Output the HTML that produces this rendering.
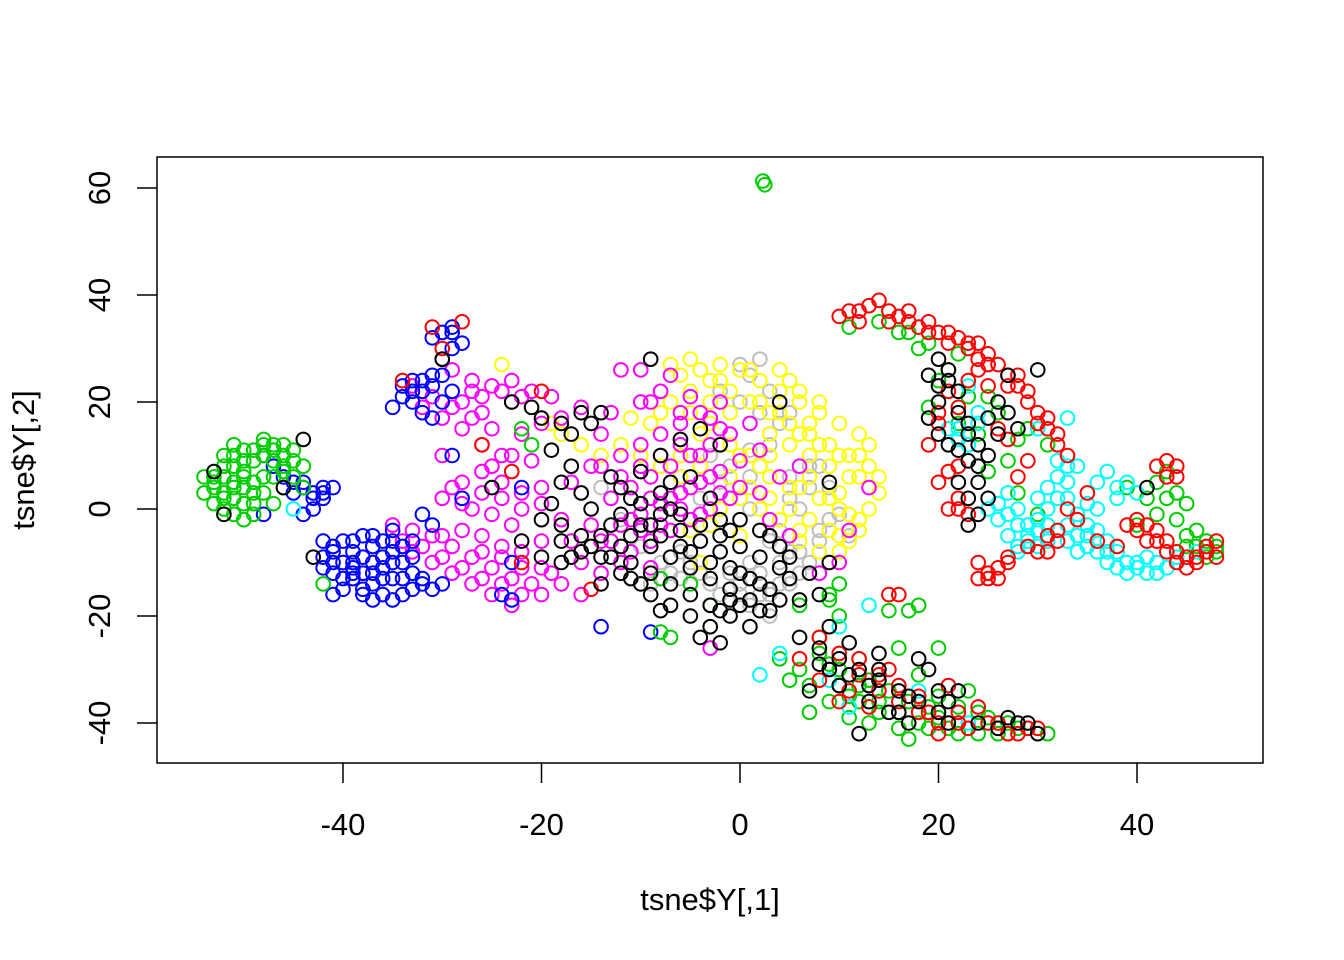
<!DOCTYPE html>
<html><head><meta charset="utf-8"><style>
html,body{margin:0;padding:0;background:#fff}
svg{display:block;font-family:"Liberation Sans",Arial,sans-serif}
</style></head><body>
<svg id="chart" width="1344" height="960" viewBox="0 0 1344 960">
<rect x="157" y="157" width="1106" height="606" fill="none" stroke="#000" stroke-width="1.5"/>
<g id="xaxis"></g>
<g id="yaxis"></g>
<g id="pts"></g>
<text x="710" y="910" font-size="31" text-anchor="middle">tsne$Y[,1]</text>
<text x="0" y="0" font-size="31" text-anchor="middle" transform="translate(34,460) rotate(-90)">tsne$Y[,2]</text>
</svg>
<script>
const xTicks=[-40,-20,0,20,40];
const yTicks=[-40,-20,0,20,40,60];
const gray=[2,28,0,27,-2,22,0,20,2,18,4,16,6,14,3,12,1,11,-1,8,5,6,7,4,9,-2,8,-4,6,-8,4,-10,2,-12,0,-14,-2,-16,-4,-12,5,-14,3,-16,1,-18,-6,-8,-8,-10,-10,-7,-12,-2,-4,2,8,8,10,-1,4,-4,-14,4,-9,-14,-6,-13,3,-20,-2,5,6,0,1,0,11,-5,9,-10,
1,25,3,22,5,18,3,14,-1,14,-3,10,1,6,7,8,9,4,8,-6,5,-8,3,-6,1,-10,-1,-12,-3,-14,4,-14,6,-12,-5,-10,-7,-12,0,-16,2,-16,7,-10,5,2,-6,6];
const yellow=[-6,25,-4,26,-2,27,0,26,2,24,4,22,6,20,8,18,10,16,12,14,-5,22,-3,20,-1,18,1,16,3,14,5,12,7,10,9,8,11,6,-4,14,-2,12,0,10,2,8,4,6,6,4,8,2,10,0,12,-2,-1,6,1,4,3,2,5,0,7,-2,9,-4,11,-6,6,14,8,12,10,10,4,18,2,20,-7,20,-9,16,-6,10,-8,8,10,3,12,10,14,3,5,24,7,16,3,10,-24,27,-19,16,-18,14,-16,12,-14,10,-12,12,-11,17,-3,-3,-5,-4,0,-5,-4,-10,8,-8,10,-5,6,-6,
-7,27,-5,28,-3,24,-1,22,1,20,3,18,5,16,7,14,9,12,11,10,13,8,-5,18,-3,16,-1,12,1,10,3,6,5,4,7,6,9,2,11,-1,12,6,13,12,8,20,6,22,4,26,1,26,-2,24,-8,18,-10,10,-6,6,-4,8,2,0,4,-2,6,-4,10,-8,12,-4,13,0,14,6,-2,0,0,2];
const magenta=[-35,-3,-33,-4,-31,-5,-29,-7,-27,-9,-25,-11,-23,-13,-21,-14,-19,-12,-29,-12,-27,-14,-25,-16,-23,-18,-31,-10,-33,-8,-28,-4,-26,-5,-24,-7,-22,-8,-20,-6,-30,2,-28,5,-26,7,-24,5,-22,3,-20,1,-18,-2,-27,0,-25,-1,-23,-3,-29,4,-26,12,-24,10,-22,14,-20,16,-18,17,-27,22,-25,23,-23,24,-21,22,-19,21,-29,19,-31,21,-33,23,-29,26,-27,24,-26,18,-23,20,-30,10,-28,15,-14,8,-12,10,-10,12,-8,14,-6,16,-4,18,-2,20,-13,2,-11,4,-9,6,-7,8,-5,10,-3,12,-1,14,1,16,-12,-3,-10,-1,-8,1,-6,3,-4,5,-2,7,0,9,2,11,-11,-8,-9,-6,-7,-4,-5,-2,-3,0,-1,2,-14,-12,-12,-10,-10,20,-12,26,-10,26,-8,22,-6,18,4,6,6,8,2,3,-3,-26,-16,-16,-17,-6,-15,-3,13,4,10,-10,8,-12,5,-5,3,-2,11,-4,-9,-11,-14,14,-16,19,
-34,-6,-32,-7,-30,-9,-28,-11,-26,-13,-24,-14,-22,-16,-20,-16,-30,-5,-26,-8,-24,-9,-22,-11,-20,-11,-28,1,-26,3,-24,2,-22,0,-20,4,-25,8,-23,10,-21,9,-28,20,-26,21,-24,22,-22,21,-32,19,-30,17,-27,17,-25,15,-12,6,-10,8,-8,10,-6,12,-4,10,-2,15,-9,2,-7,2,-5,4,-3,6,-10,-4,-8,-3,-6,0,-4,-1,-2,3,0,4,-13,-6,-11,-2,-9,20,-7,25,-5,21,-3,17,-13,18,-15,8,-17,5,-18,-14,-16,-10,-14,-6];
const blue=[-33,24,-32,22,-31,25,-30,28,-29,30,-31,32,-30,33,-29,34,-33,20,-34,21,-35,19,-32,18,-31,17,-30,20,-29,22,-47,8,-48,10,-46,6,-45,3,-44,5,-43,2,-42,3,-41,4,-43,0,-44,-1,-48,-1,-42,4,-42,-6,-41,-8,-40,-10,-39,-12,-38,-9,-37,-7,-36,-6,-35,-8,-36,-11,-37,-14,-38,-15,-39,-13,-40,-15,-41,-16,-42,-11,-36,-16,-35,-13,-34,-10,-33,-12,-34,-16,-35,-4,-33,-6,-32,-14,-31,-15,-40,-6,-38,-5,-37,-12,-36,-9,-39,-8,-41,-12,-30,-14,-32,-1,-24,-16,-23,-17,-14,-22,-23,-10,-29,10,-9,-23,-28,2,-22,4,
-41,-7,-39,-6,-37,-5,-35,-6,-34,-7,-33,-9,-35,-10,-37,-10,-39,-10,-41,-10,-40,-13,-38,-12,-36,-13,-34,-13,-38,-16,-37,-17,-35,-17,-33,-15,-39,-11,-42,-9,-32,-13,-31,-3,-32,24,-31,23,-30,25,-33,22,-34,23,-29,33,-28,31,-43,3,-44,4,-42,2,-45,5];
const green=[-54,6,-53,5,-52,8,-51,10,-50,11,-49,9,-48,13,-47,12,-46,10,-52,3,-51,2,-50,4,-49,5,-53,1,-51,-1,-50,-2,-48,3,-47,6,-46,7,-45,9,-44,4,-52,0,-49,1,-50,7,-48,10,-54,3,-46,4,-42,-14,-47,1,2.3,61.3,2.5,60.6,9,-17,10,-20,6,-18,8,-24,10,-30,12,-33,14,-36,16,-38,17,-43,19,-41,22,-40,24,-42,26,-42,28,-41,30,-41,15,-34,18,-31,20,-35,22,-37,9,-36,11,-39,13,-40,7,-38,5,-32,4,-28,16,-26,12,-28,15,-19,17,-19,18,-18,-7,-24,-8,-23,20,-26,23,-34,25,-39,11,34,14,35,17,33,19,31,21,26,19,19,22,16,24,14,26,18,23,21,29,15,31,12,27,9,25,7,28,3,30,-1,10,-14,9,-16,42,5,44,3,46,-4,47,-6,48,-8,45,-7,43,7,41,2,40,-3,44,-2,39,4,-22,15,-21,12,-8,-13,-5,-14,-3,-18,
-53,6,-52,6,-51,8,-50,9,-49,11,-48,12,-47,11,-46,12,-45,11,-53,4,-51,5,-50,6,-49,3,-48,6,-47,9,-46,8,-52,2,-50,1,-51,4,-49,-1,-52,10,-51,12,-44,8,-45,6,8,-27,10,-33,12,-36,14,-38,16,-41,18,-40,20,-39,22,-42,24,-38,26,-41,11,-35,13,-32,17,-36,19,-37,9,-29,6,-30,7,-33,21,-41,27,-40,31,-42,45,-5,47,-9,46,-7,43,2,42,-1,45,1,48,-7,20,24,22,29,25,21,18,30,16,33,28,13];
const cyan=[27,3,28,-3,29,-6,30,-2,31,0,32,-4,33,-3,34,-5,35,-7,36,-8,37,-6,38,-8,39,-10,40,-11,41,-12,42,-10,34,-1,36,0,38,2,33,5,32,9,34,8,39,5,40,3,44,-9,30,-7,26,-2,27,-5,25,0,22,13,24,16,21,15,23,23,25,27,33,17,30,15,32,2,35,-3,37,-10,2,-31,4,-27,9,-32,11,-37,13,-18,10,-22,18,-34,23,-40,-45,0,28,-8,31,-6,
28,0,29,-3,31,-3,33,-6,35,-5,36,-4,37,-8,38,-11,40,-10,41,-9,42,-12,43,-11,33,2,35,1,36,5,37,7,38,4,30,2,31,4,32,6,33,8,29,-5,26,1,27,-1,28,-7,30,-4,34,-8,39,-12,22,15,24,18,23,12,35,-5,45,-11,46,-8];
const red=[10,36,12,37,13,38,14,39,15,37,16,36,17,35,18,34,19,35,20,33,21,31,22,32,23,30,24,28,25,29,26,27,27,25,28,23,29,20,30,18,31,15,32,12,33,10,20,5,22,8,21,0,22,2,23,-1,24,-13,25,-12,26,-11,27,-9,24,-10,25,-13,30,-8,31,-5,32,-4,33,0,35,3,34,-2,41,-3,42,-6,43,-8,44,-10,45,-11,46,-9,47,-7,48,-6,42,8,43,9,44,6,40,-2,38,-7,28,6,29,9,26,15,22,19,20,16,19,12,21,22,23,24,6,-28,8,-24,10,-27,12,-31,14,-34,16,-36,18,-38,20,-42,22,-40,24,-37,26,-40,28,-42,30,-41,21,-33,15,-30,10,-36,8,-32,15,-16,16,-16,-34,24,-31,34,-28,35,-30,30,-20,22,-26,12,-23,7,-22,-10,-15,-15,
11,37,12,35,15,35,17,37,19,33,21,33,23,31,24,31,25,27,27,23,28,25,29,22,30,16,31,17,32,14,27,13,25,23,24,26,20,18,21,7,22,0,25,-12,26,-13,27,-10,29,-7,31,-8,32,-6,36,-6,40,-4,41,-6,42,-4,43,-6,44,-8,45,-9,46,-10,47,-8,48,-9,43,6,44,8,39,-3,14,-31,16,-33,18,-35,19,-38,20,-40,22,-38,23,-41,25,-40,27,-42,29,-41,12,-28,9,-30,11,-34,13,-37];
const black=[-20,17,-18,16,-16,18,-14,18,-19,11,-17,8,-18,5,-16,3,-15,0,-13,-3,-11,-5,-9,-7,-7,-9,-5,-11,-3,-13,-1,-15,1,-17,3,-19,-12,-1,-10,1,-8,3,-6,-1,-4,-3,-2,-5,0,-7,2,-9,4,-11,-11,-10,-9,-12,-7,-14,-5,-16,-3,-18,-1,-20,1,-22,-4,-24,-2,-25,-14,-5,-12,-7,-10,-14,-8,-19,-6,-4,-8,-1,-2,-8,0,-2,2,-4,4,-7,-16,-5,-18,-3,-17,-9,-14,-14,-12,4,-10,7,-8,10,-6,13,-4,15,-2,12,-9,28,-7,0,-5,6,-3,2,-1,-11,6,-17,8,-16,9,-10,4,20,9,5,-23,20,-21,19,-25,4,-20,-2,-22,-6,-43,-9,-44,13,-46,4,-53,7,-52,-1,-30,28,-18,-10,20,23,21,26,22,18,23,14,24,12,25,10,26,20,27,18,20,28,19,25,22,5,23,2,24,-1,23,-3,20,20,21,12,24,8,30,26,28,15,41,4,25,17,27,25,6,-24,8,-26,10,-28,12,-30,14,-32,16,-34,18,-36,20,-38,22,-34,24,-40,27,-39,29,-40,11,-25,9,-22,13,-36,15,-38,17,-40,12,-42,19,-30,7,-34,10,-33,14,-27,
-15,-7,-13,-9,-11,-13,-9,-16,-7,-18,-5,-20,-3,-22,-1,-17,1,-13,3,-15,5,-13,-6,-7,-4,-6,-2,-2,0,-12,2,-14,-8,-5,-10,-3,-12,-12,-14,-9,-16,-8,-18,-6,-20,-9,-19,1,-17,14,-15,16,-13,6,-11,2,-9,-3,-7,5,-5,-8,-3,-10,-1,-4,3,-5,5,-9,7,-12,-2,-19,0,-18,2,-19,4,-17,21,24,22,22,23,16,22,11,24,5,25,2,26,14,20,14,19,17,23,9,18,-28,20,-34,21,-36,14,-30,16,-38,8,-29,9,-30,11,-31,13,-33,17,-35,21,-40,26,-41,28,-40,30,-42];
const seriesNames=['gray','yellow','magenta','blue','green','cyan','red','black'];
const seriesData=[gray,yellow,magenta,blue,green,cyan,red,black];
const seriesColors=['#BEBEBE','#FFFF00','#FF00FF','#0000FF','#00CD00','#00FFFF','#FF0000','#000000'];

const NS='http://www.w3.org/2000/svg';
function sx(v){return 740+v*9.925;}
function sy(v){return 509-v*5.35;}
function mk(t,a){const e=document.createElementNS(NS,t);for(const k in a)e.setAttribute(k,a[k]);return e;}
const xa=document.getElementById('xaxis');
xTicks.forEach(v=>{
  const l=mk('line',{x1:sx(v),x2:sx(v),y1:763,y2:783,stroke:'#000','stroke-width':1.5});
  
  
  xa.appendChild(l);
  const t=mk('text',{x:sx(v),y:835,'font-size':31,'text-anchor':'middle'});
  t.textContent=v;
  
  
  xa.appendChild(t);
});
const ya=document.getElementById('yaxis');
yTicks.forEach(v=>{
  const l=mk('line',{x1:137,x2:157,y1:sy(v),y2:sy(v),stroke:'#000','stroke-width':1.5});
  
  
  ya.appendChild(l);
  const t=mk('text',{x:0,y:0,'font-size':31,'text-anchor':'middle',transform:'translate(110,'+sy(v)+') rotate(-90)'});
  t.textContent=v;
  
  
  ya.appendChild(t);
});
const pg=document.getElementById('pts');
seriesData.forEach((arr,si)=>{
  const g=mk('g',{fill:'none',stroke:seriesColors[si],'stroke-width':2});
  
  
  for(let i=0;i<arr.length;i+=2){
    const c=mk('circle',{cx:sx(arr[i]),cy:sy(arr[i+1]),r:6.8});
    
    
    g.appendChild(c);
  }
  pg.appendChild(g);
});
</script>
</body></html>
